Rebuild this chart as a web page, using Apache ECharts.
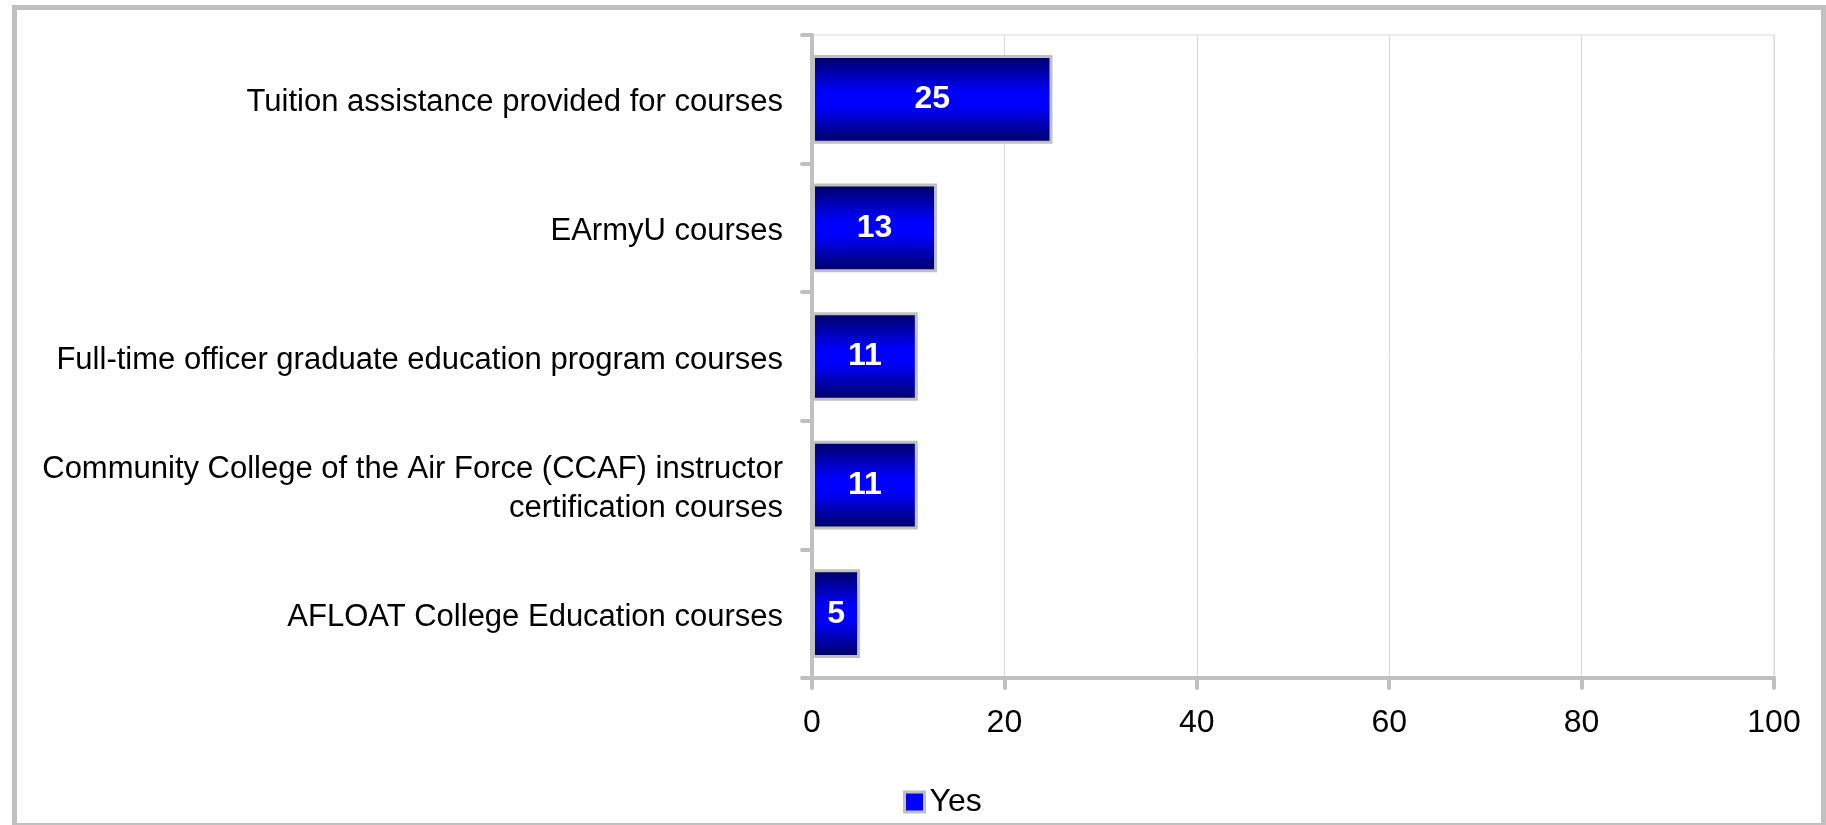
<!DOCTYPE html>
<html>
<head>
<meta charset="utf-8">
<script src="https://cdn.jsdelivr.net/npm/echarts@6/dist/echarts.min.js"></script>
<style>
html,body{margin:0;padding:0;background:#fff;}
#chart{width:1826px;height:825px;}
</style>
</head>
<body>
<div id="chart"></div>
<script>
const categories = [
  'Tuition assistance provided for courses',
  'EArmyU courses',
  'Full-time officer graduate education program courses',
  'Community College of the Air Force (CCAF) instructor\ncertification courses',
  'AFLOAT College Education courses'
];
const yesValues = [25, 13, 11, 11, 5];
const seriesName = 'Yes';
const xMin = 0, xMax = 100, xInterval = 20;

const FONT = '"Liberation Sans", Arial, sans-serif';
const chart = echarts.init(document.getElementById('chart'), null, {renderer: 'canvas'});
const gray = '#c0c0c0';

chart.setOption({
  animation: false,
  backgroundColor: '#ffffff',
  textStyle: {fontFamily: FONT},
  graphic: [{
    type: 'rect',
    shape: {x: 14.5, y: 7.5, width: 1809, height: 818},
    style: {fill: 'none', stroke: gray, lineWidth: 5},
    silent: true, z: 100
  }],
  grid: {
    left: 812, right: 52, top: 35, bottom: 147,
    show: true, borderColor: '#d9d9d9', borderWidth: 1, backgroundColor: 'transparent'
  },
  legend: {
    show: true,
    left: 898, top: 781,
    itemWidth: 20, itemHeight: 20, itemGap: 9,
    textStyle: {fontFamily: FONT, fontSize: 32, color: '#000'},
    data: [{
      name: seriesName, icon: 'rect',
      itemStyle: {color: '#0000ff', borderColor: gray, borderWidth: 3}
    }]
  },
  xAxis: {
    type: 'value', min: xMin, max: xMax, interval: xInterval,
    axisLine: {show: true, lineStyle: {color: gray, width: 4, cap: 'round'}},
    axisTick: {show: true, length: 10, lineStyle: {color: gray, width: 4, cap: 'round'}},
    axisLabel: {fontFamily: FONT, fontSize: 32, color: '#000', margin: 29},
    splitLine: {show: true, lineStyle: {color: '#d9d9d9', width: 1}}
  },
  yAxis: {
    type: 'category', data: categories, inverse: true,
    axisLine: {show: true, lineStyle: {color: gray, width: 4, cap: 'round'}},
    axisTick: {show: true, length: 10, lineStyle: {color: gray, width: 4, cap: 'round'}},
    axisLabel: {
      color: '#000', margin: 29, align: 'right',
      formatter: v => v.split('\n').map(l => '{a|' + l + '}').join('\n'),
      rich: {a: {fontFamily: FONT, fontSize: 31, color: '#000', lineHeight: 39, padding: [7, 0, 0, 0]}}
    },
    splitLine: {show: false}
  },
  series: [{
    name: seriesName,
    type: 'bar',
    data: yesValues,
    barCategoryGap: '31%',
    itemStyle: {
      color: new echarts.graphic.LinearGradient(0, 0, 0, 1, [
        {offset: 0, color: '#000060'},
        {offset: 0.42, color: '#0000ff'},
        {offset: 0.58, color: '#0000ff'},
        {offset: 1, color: '#000060'}
      ]),
      borderColor: gray, borderWidth: 3
    },
    label: {
      show: true, position: 'inside', color: '#fff',
      fontFamily: FONT, fontSize: 32, fontWeight: 'bold'
    }
  }]
});
</script>
</body>
</html>
